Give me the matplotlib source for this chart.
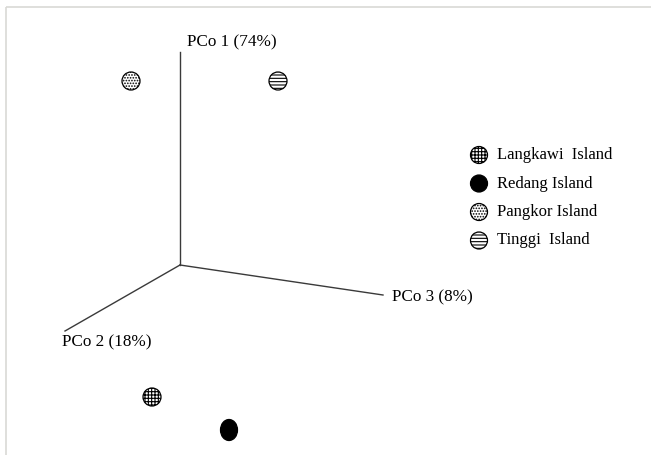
import matplotlib
matplotlib.use("Agg")
import matplotlib.pyplot as plt
from matplotlib.patches import Ellipse, Rectangle

plt.rcParams['font.family'] = ['Liberation Serif', 'DejaVu Serif']
plt.rcParams['hatch.linewidth'] = 0.8

# Projected ordination plane (screen units, y downward)
origin = (180, 265)
axis_names = ["PCo 1 (74%)", "PCo 2 (18%)", "PCo 3 (8%)"]
axis_tips_x = [180, 65, 383]
axis_tips_y = [52, 331, 295]

islands = ["Langkawi  Island", "Redang Island", "Pangkor Island", "Tinggi  Island"]
score_x = [152, 229, 131, 278]
score_y = [397, 430, 81, 81]
fills = ["white", "black", "white", "white"]
hatches = ["+++++", None, "......", "-----"]
widths = [18, 17, 18, 18]
heights = [18, 21, 18, 18]

fig = plt.figure(figsize=(6.51, 4.55), dpi=100)
ax = fig.add_axes([0, 0, 1, 1])
ax.set_xlim(0, 651)
ax.set_ylim(455, 0)
ax.axis("off")

# light frame
ax.add_patch(Rectangle((6, 7), 660, 460, fill=False, edgecolor="#d9d9d6", lw=1.2))

for tx, ty in zip(axis_tips_x, axis_tips_y):
    ax.plot([origin[0], tx], [origin[1], ty], color="#3a3a3a", lw=1.0)

ax.text(187, 42, axis_names[0], fontsize=12.3, va="center", ha="left")
ax.text(62, 342, axis_names[1], fontsize=12.3, va="center", ha="left")
ax.text(392, 297, axis_names[2], fontsize=12.3, va="center", ha="left")

def marker(x, y, w, h, fc, hatch):
    ax.add_patch(Ellipse((x, y), w, h, facecolor=fc, edgecolor="black",
                         hatch=hatch, lw=0.9))

for x, y, w, h, fc, hz in zip(score_x, score_y, widths, heights, fills, hatches):
    marker(x, y, w, h, fc, hz)

# legend
leg_y0, leg_dy = 155, 28.5
for i, (name, fc, hz) in enumerate(zip(islands, fills, hatches)):
    y = leg_y0 + i * leg_dy
    marker(479, y, 17, 17, fc, hz)
    ax.text(497, y, name, fontsize=12, va="center", ha="left")

fig.savefig("out.png", dpi=100)
